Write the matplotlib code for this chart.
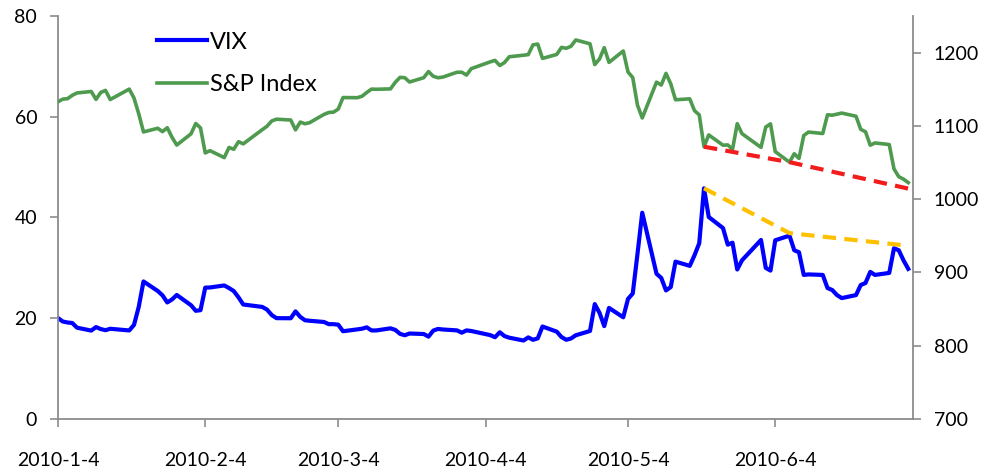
import matplotlib
matplotlib.use('Agg')
import matplotlib.pyplot as plt
import pandas as pd

# trading days 2010-01-04 .. 2010-07-02 (US market holidays removed)
holidays = ['2010-01-18', '2010-02-15', '2010-04-02', '2010-05-31']

vix = [
    # Jan
    20.04, 19.35, 19.16, 19.06, 18.13, 17.55, 18.25, 17.85, 17.63, 17.91,
    17.58, 18.68, 22.27, 27.31, 25.41, 24.55, 23.14, 23.73, 24.62,
    # Feb
    22.59, 21.48, 21.60, 26.08, 26.11, 26.51, 26.00, 25.40, 24.15, 22.73,
    22.25, 21.72, 20.63, 20.02, 20.00, 21.37, 20.27, 19.60, 19.50,
    # Mar
    19.26, 18.83, 18.83, 18.72, 17.42, 17.79, 17.92, 18.20, 17.58, 17.58,
    18.00, 17.69, 16.91, 16.62, 16.97, 16.87, 16.35, 17.55, 17.88, 17.77,
    17.59, 17.13, 17.59,
    # Apr
    17.47, 16.65, 16.23, 17.22, 16.46, 16.14, 15.58, 16.20, 15.72, 16.01,
    18.36, 17.34, 16.27, 15.73, 15.98, 16.62, 17.47, 22.81, 21.08, 18.44,
    22.05,
    # May
    20.19, 23.84, 24.91, 32.80, 40.95, 28.84, 28.00, 25.52, 26.20, 31.24,
    30.40, 32.50, 34.90, 45.79, 40.10, 37.90, 34.61, 35.00, 29.68, 31.50,
    # Jun
    35.54, 30.00, 29.46, 35.48, 36.40, 33.50, 33.10, 28.60, 28.70, 28.60,
    26.00, 25.60, 24.60, 24.00, 24.60, 26.60, 27.00, 29.20, 28.60, 29.00,
    33.90, 33.50,
    # Jul
    31.50, 29.80,
]

spx = [
    # Jan
    1132.99, 1136.52, 1137.14, 1141.69, 1144.98, 1146.98, 1136.22, 1145.68, 1148.46, 1136.03,
    1150.23, 1138.04, 1116.48, 1091.76, 1096.78, 1092.17, 1097.50, 1084.53, 1073.87,
    # Feb
    1089.19, 1103.32, 1097.28, 1063.11, 1066.19, 1056.74, 1070.52, 1068.13, 1078.47, 1075.51,
    1094.87, 1099.51, 1106.75, 1109.17, 1108.01, 1094.60, 1105.24, 1102.94, 1104.49,
    # Mar
    1115.71, 1118.31, 1118.79, 1122.97, 1138.70, 1138.50, 1140.45, 1145.61, 1150.24, 1149.99,
    1150.51, 1159.46, 1166.21, 1165.83, 1159.90, 1165.81, 1174.17, 1167.72, 1165.73, 1166.59,
    1173.22, 1173.27, 1169.43,
    # Apr
    1178.10, 1187.44, 1189.44, 1182.45, 1186.44, 1194.37, 1196.48, 1197.30, 1210.65, 1211.67,
    1192.13, 1197.52, 1207.17, 1205.94, 1208.67, 1217.28, 1212.05, 1183.71, 1191.36, 1206.78,
    1186.69,
    # May
    1202.26, 1173.60, 1165.90, 1128.15, 1110.88, 1159.73, 1155.79, 1171.67, 1157.44, 1135.68,
    1136.94, 1120.80, 1115.05, 1071.59, 1087.69, 1073.65, 1074.03, 1067.95, 1103.06, 1089.41,
    # Jun
    1070.71, 1098.38, 1102.83, 1064.88, 1050.47, 1062.00, 1055.69, 1086.84, 1091.60, 1089.63,
    1115.23, 1114.61, 1116.04, 1117.51, 1113.20, 1095.31, 1092.04, 1073.69, 1076.76, 1074.57,
    1041.24, 1030.71,
    # Jul
    1027.37, 1022.58,
]

# hand drawn trend lines
spx_trend_dates = ['2010-05-20', '2010-06-07', '2010-07-03']
spx_trend = [1071.6, 1050.5, 1013.0]
vix_trend_dates = ['2010-05-20', '2010-06-07', '2010-07-02']
vix_trend = [45.8, 36.9, 34.4]

tick_labels = ['2010-1-4', '2010-2-4', '2010-3-4', '2010-4-4', '2010-5-4', '2010-6-4']

dates = pd.bdate_range('2010-01-04', '2010-07-02')
dates = dates[~dates.isin(pd.to_datetime(holidays))]
assert len(dates) == len(vix) == len(spx)

plt.rcParams['font.family'] = ['Lato', 'DejaVu Sans']
gray = '#8c8c8c'

fig = plt.figure(figsize=(9.96, 4.74), dpi=100)
ax = fig.add_axes([58 / 996, 1 - 419 / 474, 855 / 996, 403 / 474])
ax2 = ax.twinx()

l1, = ax.plot(dates, vix, color='#0000ff', lw=3, label='VIX', solid_joinstyle='round')
ax.plot(pd.to_datetime(vix_trend_dates), vix_trend, color='#ffc000', lw=3,
        linestyle=(0, (3.2, 2.0)), clip_on=False)
l2, = ax2.plot(dates, spx, color='#4e9a4f', lw=2.6, label='S&P Index', solid_joinstyle='round')
ax2.plot(pd.to_datetime(spx_trend_dates), spx_trend, color='#f21c1c', lw=3,
         linestyle=(0, (3.2, 2.0)), clip_on=False)

ax.set_xlim(pd.Timestamp('2010-01-04'), pd.Timestamp('2010-07-03'))
ax.set_ylim(0, 80)
ax.set_yticks(range(0, 81, 20))
ax2.set_ylim(700, 1250)
ax2.set_yticks(range(700, 1201, 100))
ax.set_xticks(pd.to_datetime(tick_labels))
ax.set_xticklabels(tick_labels)

for a in (ax, ax2):
    for s in a.spines.values():
        s.set_visible(False)
        s.set_color(gray)
        s.set_linewidth(1.3)
ax.spines['left'].set_visible(True)
ax.spines['bottom'].set_visible(True)
ax2.spines['right'].set_visible(True)

ax.tick_params(axis='y', direction='out', length=6, width=1.2, color=gray, labelsize=14, pad=9)
ax.tick_params(axis='x', direction='out', length=6, width=1.2, color=gray, labelsize=14, pad=18)
ax2.tick_params(axis='y', direction='out', length=6, width=1.2, color=gray, labelsize=14, pad=9)

leg = ax2.legend(handles=[l1, l2], loc='upper left', bbox_to_anchor=(0.116, 0.961),
                 frameon=False, fontsize=17, handlelength=2.1, handletextpad=0.12,
                 labelspacing=0.92, borderpad=0, borderaxespad=0)

fig.savefig('out.png', dpi=100)
